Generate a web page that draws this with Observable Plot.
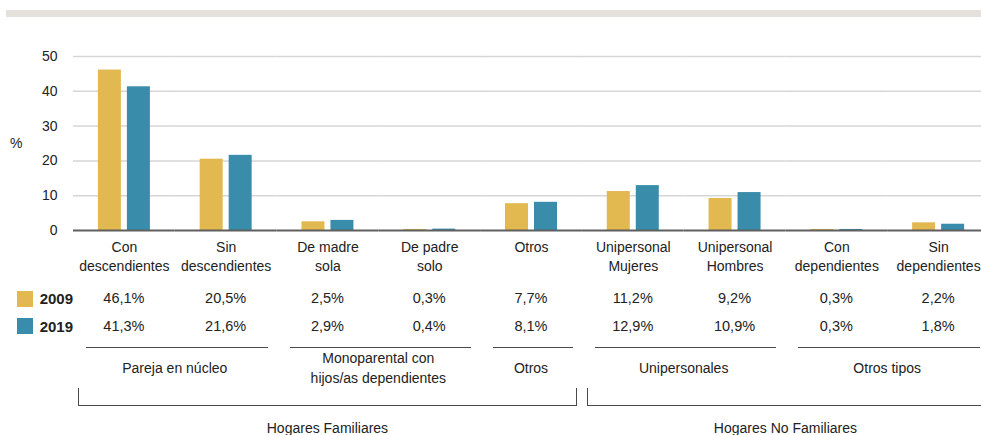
<!DOCTYPE html>
<html>
<head>
<meta charset="utf-8">
<script src="https://cdn.jsdelivr.net/npm/d3@7"></script>
<script src="https://cdn.jsdelivr.net/npm/@observablehq/plot@0.6"></script>
<style>
  html, body { margin: 0; padding: 0; background: #fff; overflow: hidden; }
  body { font-family: "Liberation Sans", Arial, sans-serif; color: #222; }
  #wrap { position: relative; width: 989px; height: 435px; overflow: hidden; }
  #topbar { position: absolute; left: 6px; top: 10px; width: 983px; height: 7px; background: #e4e0dc; }
  #chart { position: absolute; left: 0; top: 0; }
  #pct { position: absolute; left: 10px; top: 135px; font-size: 14px; }
  #table { position: absolute; left: 0; top: 285px; width: 989px; display: grid;
           grid-template-columns: 73px repeat(9, 1fr); }
  .val { height: 27.5px; line-height: 27.5px; text-align: center; font-size: 14.5px; }
  .leg { height: 27.5px; display: flex; align-items: center; padding-left: 17px;
         font-weight: bold; font-size: 15px; }
  .sw { width: 16px; height: 16px; margin-right: 7px; }
  .grp { display: flex; flex-direction: column; }
  .gline { border-top: 1.8px solid #4a4a4a; margin: 6.5px 9px 0 13px; }
  .glab { height: 40px; display: flex; align-items: center; justify-content: center;
          text-align: center; font-size: 14px; line-height: 20px; white-space: pre; }
  .sup { display: flex; flex-direction: column; }
  .bracket { height: 17px; border: 1.8px solid #4a4a4a; border-top: none; margin: 0 5px 0 5px; }
  .slab { text-align: center; font-size: 14px; line-height: 20px; padding-top: 12px; }
</style>
</head>
<body>
<div id="wrap">
  <div id="topbar"></div>
  <div id="chart"></div>
  <div id="pct">%</div>
  <div id="table"></div>
</div>
<script>
// ---- data ----
const categories = ["Con descendientes", "Sin descendientes", "De madre sola", "De padre solo", "Otros",
                    "Unipersonal Mujeres", "Unipersonal Hombres", "Con dependientes", "Sin dependientes"];
const categoryLabels = ["Con\ndescendientes", "Sin\ndescendientes", "De madre\nsola", "De padre\nsolo", "Otros",
                        "Unipersonal\nMujeres", "Unipersonal\nHombres", "Con\ndependientes", "Sin\ndependientes"];
const years = ["2009", "2019"];
const values2009 = [46.1, 20.5, 2.5, 0.3, 7.7, 11.2, 9.2, 0.3, 2.2];
const values2019 = [41.3, 21.6, 2.9, 0.4, 8.1, 12.9, 10.9, 0.3, 1.8];
const yTicks = [0, 10, 20, 30, 40, 50];
const groupLabels = ["Pareja en núcleo", "Monoparental con\nhijos/as dependientes", "Otros", "Unipersonales", "Otros tipos"];
const groupSpans = [2, 2, 1, 2, 2];
const superLabels = ["Hogares Familiares", "Hogares No Familiares"];
const superSpans = [5, 4];
const colors = ["#e2b851", "#3a8cab"];

// ---- table for Plot ----
const rows = categories.flatMap((c, i) => [
  {cat: c, year: years[0], value: values2009[i]},
  {cat: c, year: years[1], value: values2019[i]}
]);

const chart = Plot.plot({
  width: 989,
  height: 285,
  marginTop: 56,
  marginBottom: 55,
  marginLeft: 73,
  marginRight: 0,
  style: {fontFamily: "Liberation Sans, Arial, sans-serif", fontSize: "14px", color: "#222", background: "transparent"},
  fx: {domain: categories, padding: 0, round: false, axis: null, label: null},
  x: {domain: years, paddingInner: 0.207, paddingOuter: 0.858, round: false, axis: null},
  y: {domain: [0, 50], ticks: yTicks, tickSize: 0, tickPadding: 16, label: null},
  color: {domain: years, range: colors},
  marks: [
    Plot.ruleY(yTicks.filter(d => d > 0), {stroke: "#d6d6d6", strokeWidth: 1.5}),
    Plot.barY(rows, {fx: "cat", x: "year", y: "value", fill: "year"}),
    Plot.ruleY([0], {stroke: "#5f5f5f", strokeWidth: 2}),
    Plot.text(categories, {fx: d => d, text: d => categoryLabels[categories.indexOf(d)],
      frameAnchor: "bottom", lineAnchor: "top", dy: 8, lineHeight: 1.34, fontSize: 14, fill: "#222"})
  ]
});
document.getElementById("chart").appendChild(chart);

// ---- table below ----
const fmt = v => v.toFixed(1).replace(".", ",") + "%";
const table = document.getElementById("table");
const add = (cls, html, span) => {
  const d = document.createElement("div");
  d.className = cls;
  if (span) d.style.gridColumn = "span " + span;
  d.innerHTML = html;
  table.appendChild(d);
  return d;
};
[values2009, values2019].forEach((vals, r) => {
  add("leg", `<span class="sw" style="background:${colors[r]}"></span>${years[r]}`);
  vals.forEach(v => add("val", fmt(v)));
});
add("", "");
groupLabels.forEach((g, i) => add("grp", `<div class="gline"></div><div class="glab">${g}</div>`, groupSpans[i]));
add("", "");
superLabels.forEach((s, i) => add("sup", `<div class="bracket"></div><div class="slab">${s}</div>`, superSpans[i]));
</script>
</body>
</html>
